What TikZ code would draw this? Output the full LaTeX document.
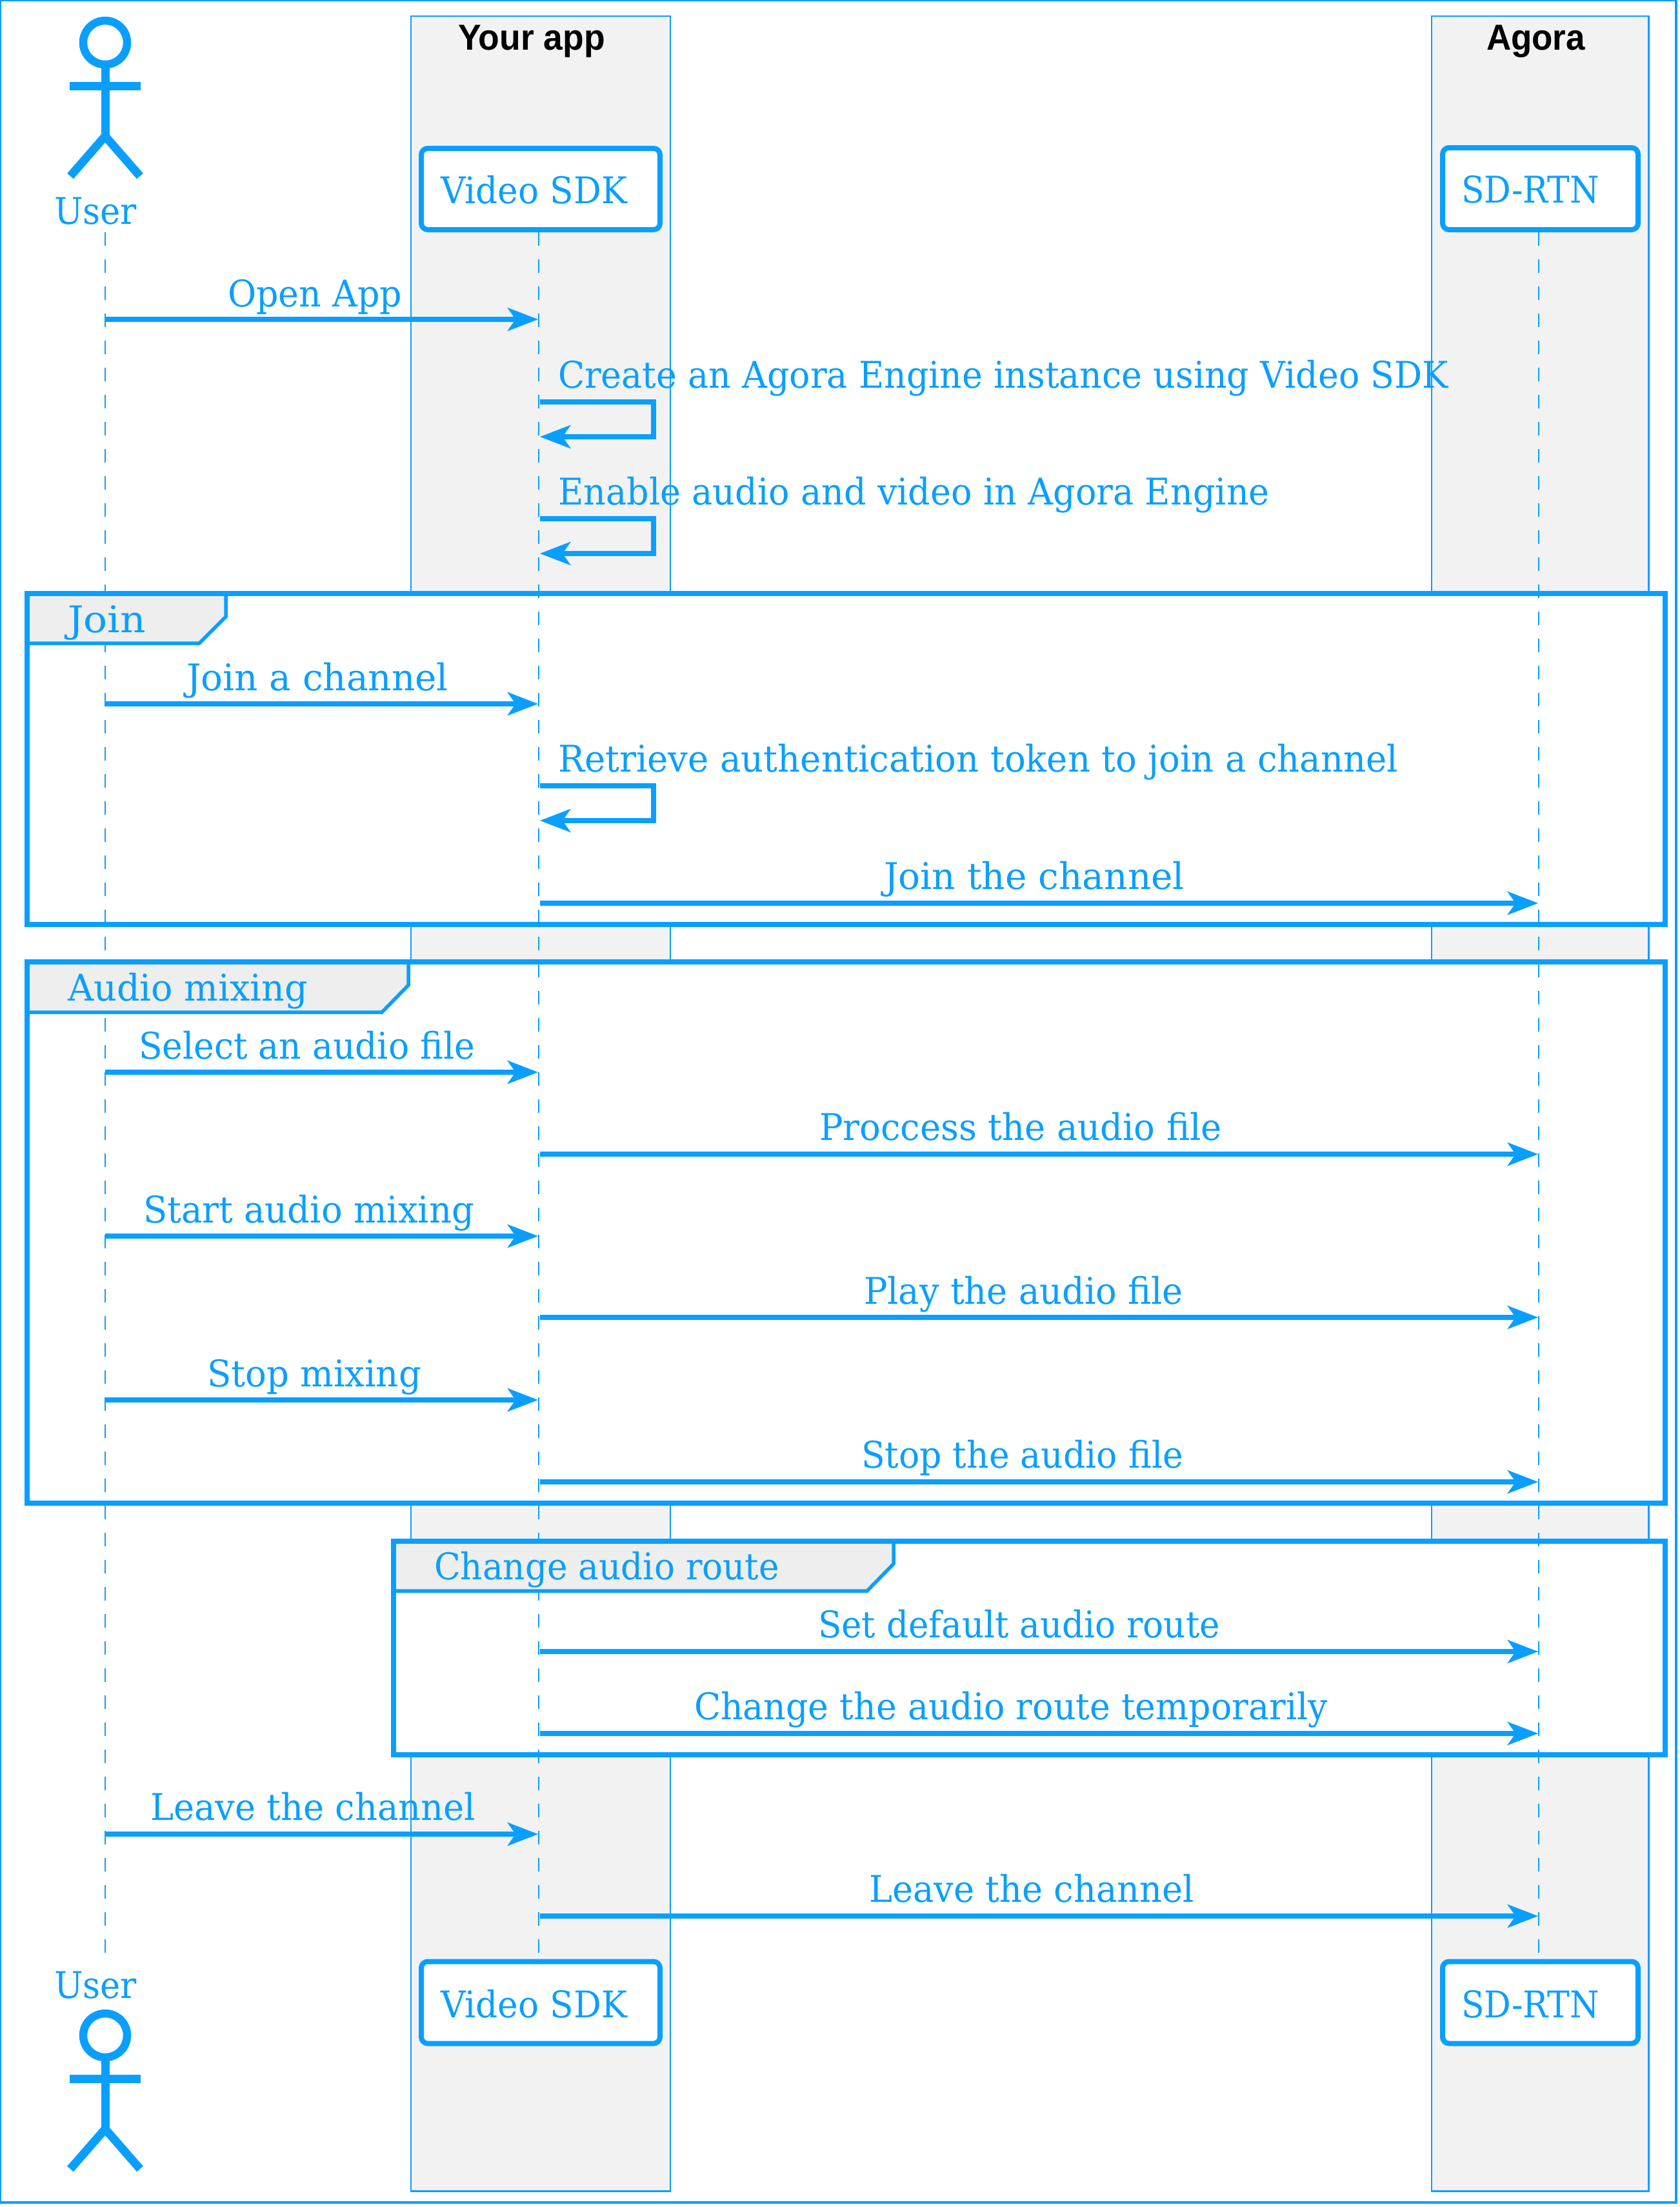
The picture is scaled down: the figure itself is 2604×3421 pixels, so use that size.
\documentclass[tikz,border=0pt]{standalone}
\usepackage{fontspec}
\usepackage{graphicx}
\usetikzlibrary{arrows.meta}
\setmainfont{DejaVu Serif}
\newfontfamily\headfont[BoldFont={Liberation Sans Bold}]{Liberation Sans}
\definecolor{agblue}{HTML}{0A9FFF}
\definecolor{partfill}{HTML}{F2F2F2}
\definecolor{tabfill}{HTML}{EEEEEE}
\newcommand{\lblfont}{\fontsize{57}{60}\selectfont}
\newcommand{\hdfont}{\headfont\bfseries\fontsize{56}{58}\selectfont}
\newsavebox{\fitbox}
% name, x1, x2, baseline, font, colour, text
\newcommand{\fitlabel}[7]{%
  \node[anchor=base west,inner sep=0pt,outer sep=0pt,text=#6] (#1) at (#2,#4) {%
    \sbox{\fitbox}{#5#7}%
    \pgfmathsetmacro{\fitratio}{(#3-#2)/\the\wd\fitbox}%
    \scalebox{\fitratio}[1]{\usebox{\fitbox}}};%
}
\newcommand{\lbl}[5]{\fitlabel{#1}{#2}{#3}{#4}{\lblfont}{agblue}{#5}}
\tikzset{
  x=1pt,y=-1pt,
  outerframe/.style={draw=agblue,line width=4pt},
  partbox/.style={draw=agblue,line width=2.5pt,fill=partfill},
  lifebox/.style={draw=agblue,line width=8pt,fill=white,rounded corners=10pt},
  lifeline/.style={draw=agblue,line width=2.6pt,dash pattern=on 21pt off 21pt},
  framewhite/.style={fill=white},
  frameline/.style={draw=agblue,line width=8pt,miter limit=10},
  tabshape/.style={draw=agblue,line width=5.5pt,fill=tabfill},
  msg/.style={draw=agblue,line width=8pt,-{Stealth[length=48pt,width=37pt,inset=13pt,line width=0pt,fill=agblue]}},
  stickman/.pic={
    \draw[agblue,line width=12.5pt] (0,0) circle[radius=34];
    \draw[agblue,line width=13pt] (0,40) -- (0,145);
    \draw[agblue,line width=13pt] (-55,67) -- (55,67);
    \draw[agblue,line width=13pt,line join=miter] (-54,207) -- (0,145) -- (54,207);
  }
}
\begin{document}
\begin{tikzpicture}
\useasboundingbox (0,0) rectangle (2604,3421);
\fill[white] (0,0) rectangle (2604,3421);
\draw[outerframe] (0,0) rectangle (2598,3414);
% participant boxes
\draw[partbox] (637,25) rectangle (1039,3396.5);
\draw[partbox] (2219,25) rectangle (2555.5,3396.5);
% frame interiors
\fill[framewhite] (42,920) rectangle (2581,1433);
\fill[framewhite] (42,1491) rectangle (2581,2330);
\fill[framewhite] (610,2389) rectangle (2581,2720);
% lifeboxes
\node[lifebox,minimum width=370pt,minimum height=126pt,inner sep=0pt] (sdkTop) at (838,293) {};
\node[lifebox,minimum width=370pt,minimum height=127pt,inner sep=0pt] (sdkBot) at (838,3104) {};
\node[lifebox,minimum width=303pt,minimum height=127pt,inner sep=0pt] (rtnTop) at (2387.5,292.5) {};
\node[lifebox,minimum width=303pt,minimum height=127pt,inner sep=0pt] (rtnBot) at (2387.5,3104) {};
% lifelines
\coordinate (uA) at (163,360);
\coordinate (uB) at (163,3045);
\coordinate (sA) at (835,360);
\coordinate (sB) at (835,3036);
\coordinate (rA) at (2385,360);
\coordinate (rB) at (2385,3036);
\draw[lifeline] (uA) -- (uB);
\draw[lifeline] (sA) -- (sB);
\draw[lifeline] (rA) -- (rB);
% tabs
\draw[tabshape] (42,920) -- (350,920) -- (350,956) -- (309,997) -- (42,997) -- cycle;
\draw[tabshape] (42,1491) -- (633,1491) -- (633,1527) -- (592,1569) -- (42,1569) -- cycle;
\draw[tabshape] (610,2389) -- (1385,2389) -- (1385,2424) -- (1344,2466) -- (610,2466) -- cycle;
\draw[frameline] (42,920) rectangle (2581,1433);
\draw[frameline] (42,1491) rectangle (2581,2330);
\draw[frameline] (610,2389) rectangle (2581,2720);
% actors
\pic at (163,66) {stickman};
\pic at (163,3155) {stickman};
% headers
\fitlabel{hYour}{710}{938}{77}{\hdfont}{black}{Your app}
\fitlabel{hAgora}{2304}{2457}{77}{\hdfont}{black}{Agora}
% participant labels
\lbl{tUser}{84}{212}{347}{User}
\lbl{tUserB}{84}{212}{3097}{User}
\lbl{tSdk}{683}{972}{315}{Video SDK}
\lbl{tSdkB}{683}{972}{3127}{Video SDK}
\lbl{tRtn}{2265}{2479}{314}{SD-RTN}
\lbl{tRtnB}{2265}{2479}{3127}{SD-RTN}
% group labels
\lbl{gJoin}{105}{226}{980}{Join}
\lbl{gMix}{105}{477}{1551}{Audio mixing}
\lbl{gRoute}{673}{1208}{2448}{Change audio route}
% message coordinates
\coordinate (m1a) at (163,495); \coordinate (m1b) at (834,495);
\coordinate (s1a) at (837,623); \coordinate (s1b) at (1013,623); \coordinate (s1c) at (1013,677); \coordinate (s1d) at (837,677);
\coordinate (s2a) at (837,804); \coordinate (s2b) at (1013,804); \coordinate (s2c) at (1013,858); \coordinate (s2d) at (837,858);
\coordinate (m2a) at (163,1091); \coordinate (m2b) at (834,1091);
\coordinate (s3a) at (837,1218); \coordinate (s3b) at (1013,1218); \coordinate (s3c) at (1013,1272); \coordinate (s3d) at (837,1272);
\coordinate (m3a) at (837,1400); \coordinate (m3b) at (2384,1400);
\coordinate (m4a) at (163,1662); \coordinate (m4b) at (834,1662);
\coordinate (m5a) at (837,1789); \coordinate (m5b) at (2384,1789);
\coordinate (m6a) at (163,1916); \coordinate (m6b) at (834,1916);
\coordinate (m7a) at (837,2042); \coordinate (m7b) at (2384,2042);
\coordinate (m8a) at (163,2170); \coordinate (m8b) at (834,2170);
\coordinate (m9a) at (837,2297); \coordinate (m9b) at (2384,2297);
\coordinate (m10a) at (837,2560); \coordinate (m10b) at (2384,2560);
\coordinate (m11a) at (837,2687); \coordinate (m11b) at (2384,2687);
\coordinate (m12a) at (163,2843); \coordinate (m12b) at (834,2843);
\coordinate (m13a) at (837,2970); \coordinate (m13b) at (2384,2970);
% messages
\draw[msg] (m1a) -- (m1b);
\draw[msg] (s1a) -- (s1b) -- (s1c) -- (s1d);
\draw[msg] (s2a) -- (s2b) -- (s2c) -- (s2d);
\draw[msg] (m2a) -- (m2b);
\draw[msg] (s3a) -- (s3b) -- (s3c) -- (s3d);
\draw[msg] (m3a) -- (m3b);
\draw[msg] (m4a) -- (m4b);
\draw[msg] (m5a) -- (m5b);
\draw[msg] (m6a) -- (m6b);
\draw[msg] (m7a) -- (m7b);
\draw[msg] (m8a) -- (m8b);
\draw[msg] (m9a) -- (m9b);
\draw[msg] (m10a) -- (m10b);
\draw[msg] (m11a) -- (m11b);
\draw[msg] (m12a) -- (m12b);
\draw[msg] (m13a) -- (m13b);
% message labels
\lbl{l1}{353}{623}{475}{Open App}
\lbl{l2}{865}{2245}{601}{Create an Agora Engine instance using Video SDK}
\lbl{l3}{865}{1968}{782}{Enable audio and video in Agora Engine}
\lbl{l4}{289}{695}{1070}{Join a channel}
\lbl{l5}{865}{2167}{1196}{Retrieve authentication token to join a channel}
\lbl{l6}{1370}{1836}{1378}{Join the channel}
\lbl{l7}{215}{736}{1641}{Select an audio file}
\lbl{l8}{1270}{1894}{1767}{Proccess the audio file}
\lbl{l9}{222}{735}{1895}{Start audio mixing}
\lbl{l10}{1339}{1834}{2021}{Play the audio file}
\lbl{l11}{321}{653}{2149}{Stop mixing}
\lbl{l12}{1335}{1834}{2275}{Stop the audio file}
\lbl{l13}{1268}{1891}{2538}{Set default audio route}
\lbl{l14}{1076}{2058}{2665}{Change the audio route temporarily}
\lbl{l15}{233}{737}{2821}{Leave the channel}
\lbl{l16}{1347}{1851}{2948}{Leave the channel}
\end{tikzpicture}
\end{document}
